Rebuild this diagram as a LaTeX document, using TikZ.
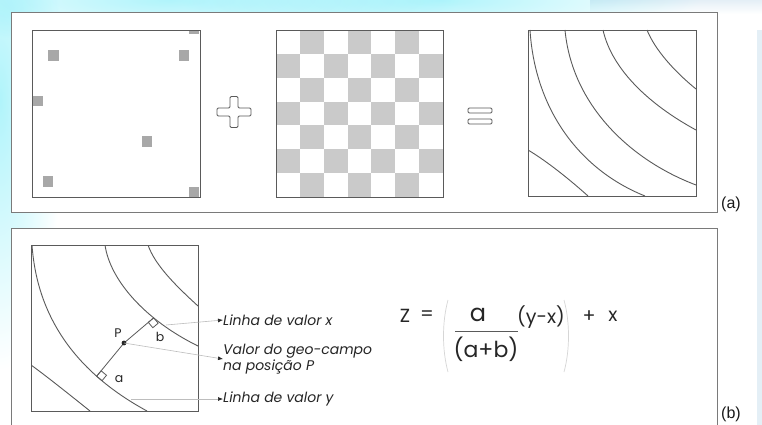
\documentclass[tikz,border=0pt]{standalone}
\usepackage{fontspec}
\setmainfont{Poppins}
\newfontfamily\arialf{Liberation Sans}
\usetikzlibrary{arrows.meta,calc}
\definecolor{lineg}{HTML}{5A5A5A}
\definecolor{panelg}{HTML}{7A7A7A}
\definecolor{dotg}{HTML}{A8A8A8}
\definecolor{checkg}{HTML}{CACACA}
\definecolor{leadg}{HTML}{BDBDBD}
\definecolor{parg}{HTML}{D6D6D6}
\definecolor{glowc}{HTML}{B0F4FB}
\definecolor{stripc}{HTML}{E4EFF6}
\tikzset{
  panelbox/.style={draw=panelg, line width=0.9pt, fill=white},
  sqbox/.style={draw=lineg, line width=0.9pt},
  contour/.style={draw=lineg, line width=0.9pt},
  dotsq/.style={fill=dotg},
  glow/.style={inner color=glowc, outer color=white},
  leader/.style={draw=leadg, line width=0.6pt, -{Latex[length=5pt,width=4pt,color=black!85]}},
  lab/.style={font=\fontsize{14}{15.5}\selectfont\itshape, text=black!85, inner sep=0pt, anchor=west},
  eq/.style={font=\fontsize{19}{21}\selectfont, text=black!85, inner sep=0pt},
  small/.style={font=\fontsize{12.5}{14}\selectfont, text=black!85, inner sep=0pt},
  tag/.style={font=\arialf\fontsize{16}{18}\selectfont, text=black!90, inner sep=0pt, anchor=west},
  sign/.style={draw=lineg, line width=0.9pt, rounded corners=1.2pt}
}
\begin{document}
\begin{tikzpicture}[x=1pt,y=-1pt]
\useasboundingbox (0,0) rectangle (762,425);
\clip (0,0) rectangle (762,425);
\fill[white] (0,0) rectangle (762,425);
% background glows
\begin{scope}[blend mode=multiply]
\shade[glow] (0,100) ellipse [x radius=64, y radius=270];
\shade[glow] (170,0) ellipse [x radius=290, y radius=46];
\shade[glow] (440,0) ellipse [x radius=260, y radius=42];
\shade[top color=stripc, bottom color=white] (590,0) rectangle (762,14);
\end{scope}
\fill[stripc] (757,30) rectangle (762,425);
% panels
\draw[panelbox] (11,12) rectangle (717,212);
\draw[panelbox] (11,228) rectangle (717,440);
% ---- square 1 with scattered samples
\fill[dotsq] (48,50) rectangle (59,61);
\fill[dotsq] (179,50) rectangle (189,61);
\fill[dotsq] (189,30) rectangle (199,34);
\fill[dotsq] (33,96) rectangle (43,106);
\fill[dotsq] (142,136) rectangle (152,147);
\fill[dotsq] (43,176) rectangle (53,187);
\fill[dotsq] (189,187) rectangle (199,197);
\draw[sqbox] (32,30) rectangle (200,197);
% plus sign
\draw[sign] (230,96.5) -- (238,96.5) -- (238,108) -- (251,108) -- (251,116) -- (238,116)
  -- (238,127.5) -- (230,127.5) -- (230,116) -- (217,116) -- (217,108) -- (230,108) -- cycle;
% ---- checkerboard
\foreach \i in {0,...,6}{
  \foreach \j in {0,...,6}{
    \pgfmathparse{int(mod(\i+\j,2))}
    \ifnum\pgfmathresult=1
      \fill[checkg] ({276+\i*167/7},{30+\j*167/7}) rectangle ({276+(\i+1)*167/7},{30+(\j+1)*167/7});
    \fi
  }
}
\draw[sqbox] (276,30) rectangle (443,197);
% equal sign
\draw[sign] (468,108) rectangle (492,113);
\draw[sign] (468,119) rectangle (492,124);
% ---- square 3 with contour lines
\begin{scope}
\clip (528,30) rectangle (696,196);
\draw[contour] (528,150) .. controls (545,160) and (568,178) .. (588,196);
\draw[contour] (530,30) .. controls (535,110) and (580,170) .. (645,196);
\draw[contour] (565,30) .. controls (572,105) and (630,160) .. (696,185);
\draw[contour] (603,30) .. controls (612,70) and (650,105) .. (696,130);
\draw[contour] (647,30) .. controls (655,50) and (675,72) .. (696,89);
\end{scope}
\draw[sqbox] (528,30) rectangle (696,196);
% ---- panel b square
\begin{scope}
\clip (31,245) rectangle (198,411);
\draw[contour] (31,365) .. controls (45,375) and (70,395) .. (90,411);
\draw[contour] (32,245) .. controls (38,330) and (90,380) .. (147,411) coordinate[pos=0.69] (fa);
\draw[contour] (105,245) .. controls (110,280) and (145,320) .. (198,346) coordinate[pos=0.685] (fb);
\draw[contour] (148,245) .. controls (155,265) and (175,285) .. (198,306);
\end{scope}
\coordinate (P) at (124,343);
\draw[sqbox] (31,245) rectangle (198,411);
% perpendicular distances
\draw[contour, line width=0.8pt] (fa) -- (P) -- (fb);
\draw[contour, line width=0.8pt] (fa) -- ($(fa)!7pt!(P)$) -- ($(fa)!9.9pt!-45:(P)$) -- ($(fa)!7pt!-90:(P)$) -- cycle;
\draw[contour, line width=0.8pt] (fb) -- ($(fb)!7pt!(P)$) -- ($(fb)!9.9pt!45:(P)$) -- ($(fb)!7pt!90:(P)$) -- cycle;
\fill[black!85] (P) circle (2.4);
\node[small] (lP) at (118,333) {P};
\node[small] (lb) at (160,337) {b};
\node[small] (la) at (119,379) {a};
% labels and leaders
\coordinate (sx) at (166,325);
\coordinate (sy) at (131,399);
\node[lab] (tx) at (223,320) {Linha de valor x};
\node[lab, align=left] (tp) at (223,359) {Valor do geo-campo\\na posição P};
\node[lab] (ty) at (223,399) {Linha de valor y};
\draw[leader] (sx) -- (tx.west);
\draw[leader] (P) -- (tp.west);
\draw[leader] (sy) -- (ty.west);
% ---- formula
\node[eq] (Z) at (405,316) {Z};
\node[eq] (eqs) at (427,316) {=};
\draw[parg, line width=0.7pt] (448,300) .. controls (442,322) and (442,350) .. (448,372);
\node[eq, font=\fontsize{24}{26}\selectfont] (num) at (478,315) {a};
\draw[lineg, line width=0.8pt] (455,331) -- (518,331);
\node[eq, font=\fontsize{22}{24}\selectfont] (den) at (486,349) {(a+b)};
\node[eq] (yx) at (541,317) {(y-x)};
\draw[parg, line width=0.7pt] (564,300) .. controls (570,322) and (570,350) .. (564,372);
\node[eq] (pl) at (589,317) {+};
\node[eq] (xx) at (613,316) {x};
% panel tags
\node[tag] (ta) at (721,204) {(a)};
\node[tag] (tb) at (721,414) {(b)};
\end{tikzpicture}
\end{document}
